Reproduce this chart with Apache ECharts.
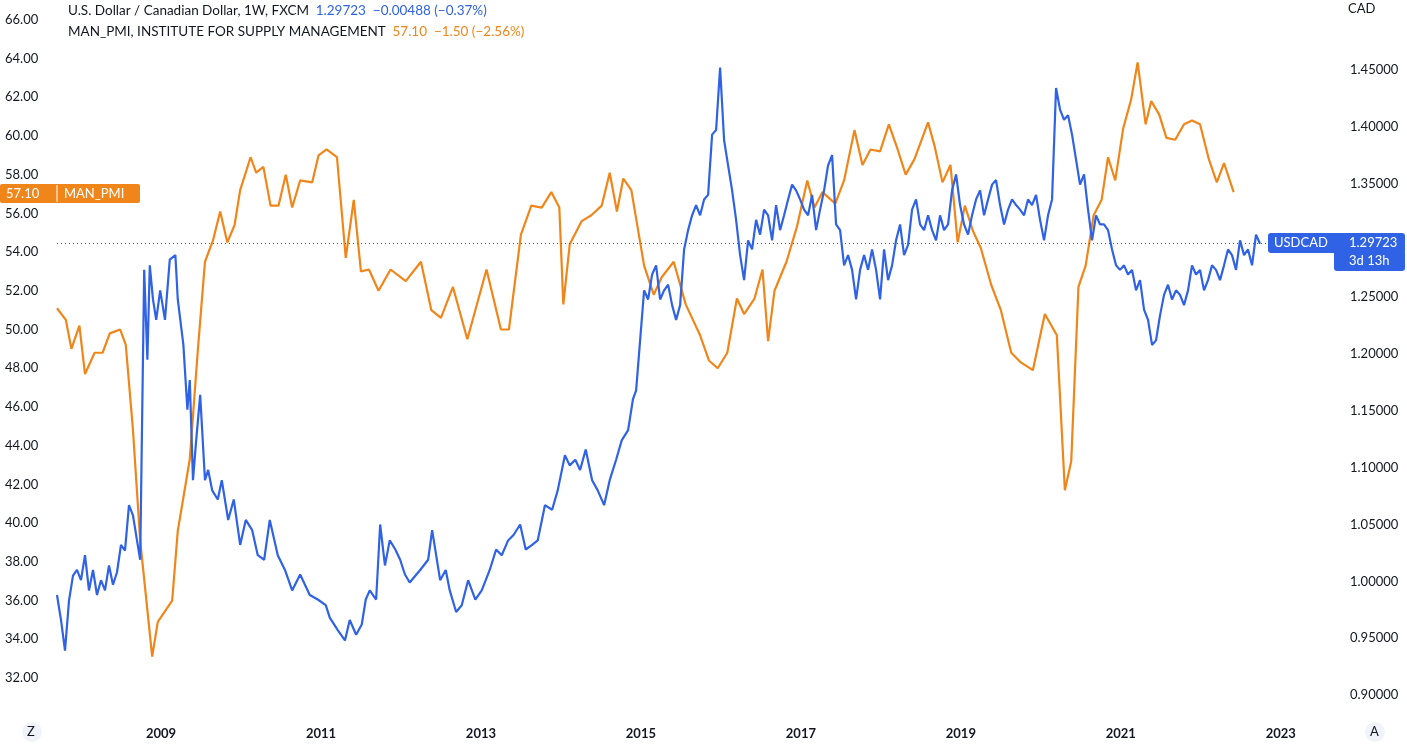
<!DOCTYPE html>
<html>
<head>
<meta charset="utf-8">
<script src="https://cdn.jsdelivr.net/npm/echarts@6/dist/echarts.min.js"></script>
<style>
  html, body { margin: 0; padding: 0; background: #fff; }
  #chart { width: 1407px; height: 744px; }
</style>
</head>
<body>
<div id="chart"></div>
<script>
// ISM manufacturing PMI (left axis), sampled by eye
const pmiYears = [2007.70,2007.81,2007.88,2007.98,2008.05,2008.17,2008.27,2008.36,2008.49,2008.56,2008.65,2008.74,2008.89,2008.96,2009.14,2009.21,2009.36,2009.46,2009.55,2009.65,2009.74,2009.83,2009.92,2009.99,2010.12,2010.19,2010.28,2010.37,2010.47,2010.56,2010.64,2010.74,2010.89,2010.97,2011.07,2011.20,2011.31,2011.41,2011.50,2011.60,2011.72,2011.87,2012.06,2012.25,2012.38,2012.50,2012.65,2012.83,2013.07,2013.25,2013.35,2013.50,2013.63,2013.76,2013.88,2013.98,2014.03,2014.11,2014.26,2014.38,2014.51,2014.61,2014.70,2014.78,2014.88,2015.04,2015.16,2015.26,2015.41,2015.56,2015.74,2015.85,2015.96,2016.08,2016.20,2016.29,2016.42,2016.52,2016.59,2016.67,2016.82,2016.95,2017.08,2017.17,2017.27,2017.43,2017.54,2017.67,2017.77,2017.87,2017.99,2018.10,2018.21,2018.31,2018.42,2018.59,2018.67,2018.77,2018.87,2018.96,2019.05,2019.15,2019.25,2019.38,2019.50,2019.63,2019.75,2019.90,2020.05,2020.20,2020.30,2020.38,2020.47,2020.56,2020.66,2020.76,2020.84,2020.93,2021.03,2021.13,2021.21,2021.31,2021.38,2021.48,2021.57,2021.68,2021.79,2021.89,2021.99,2022.10,2022.20,2022.29,2022.41];
const pmiValues = [51.1,50.5,49.0,50.2,47.7,48.8,48.8,49.8,50.0,49.2,44.8,39.1,33.1,34.9,36.0,39.6,43.3,48.9,53.5,54.6,56.1,54.5,55.4,57.2,58.9,58.1,58.4,56.4,56.4,58.0,56.3,57.7,57.6,59.0,59.3,58.9,53.7,56.7,53.0,53.1,52.0,53.1,52.5,53.5,51.0,50.6,52.2,49.5,53.1,50.0,50.0,54.9,56.4,56.3,57.1,56.3,51.3,54.4,55.6,55.9,56.4,58.1,56.1,57.8,57.2,53.3,51.8,52.7,53.5,51.3,49.7,48.4,48.0,48.8,51.6,50.8,51.6,53.1,49.4,52.0,53.5,55.3,57.7,56.3,57.1,56.5,57.7,60.3,58.5,59.3,59.2,60.6,59.3,58.0,58.8,60.7,59.5,57.6,58.5,54.5,56.4,55.1,54.2,52.3,51.0,48.8,48.3,47.9,50.8,49.7,41.7,43.2,52.2,53.3,55.9,56.7,58.9,57.7,60.4,61.9,63.8,60.6,61.8,61.1,59.9,59.8,60.6,60.8,60.6,58.8,57.6,58.6,57.1];

// USD/CAD weekly close (right axis), sampled by eye
const usdYearsEarly = [2007.70,2007.75,2007.80,2007.85,2007.90,2007.95,2008.00,2008.05,2008.10,2008.15,2008.20,2008.25,2008.30,2008.35,2008.40,2008.45,2008.50,2008.55,2008.60,2008.65,2008.70,2008.74,2008.79,2008.83,2008.86,2008.90,2008.94,2008.99,2009.05,2009.11,2009.18,2009.21,2009.28,2009.33,2009.36,2009.40,2009.44,2009.49,2009.55,2009.59,2009.64,2009.71,2009.76,2009.84,2009.91,2009.99,2010.06,2010.14,2010.21,2010.29,2010.36,2010.46,2010.55,2010.64,2010.74,2010.86,2010.96,2011.06,2011.11,2011.21,2011.30,2011.36,2011.44,2011.51,2011.56,2011.61,2011.69,2011.74,2011.80,2011.86,2011.93,2011.99,2012.05,2012.11,2012.24,2012.34,2012.39,2012.44,2012.49,2012.56,2012.61,2012.69,2012.76,2012.84,2012.93,2013.01,2013.11,2013.19,2013.26,2013.34,2013.41,2013.49,2013.56,2013.64,2013.71,2013.80,2013.89,2013.96,2014.05,2014.11,2014.18,2014.24,2014.31,2014.39,2014.46,2014.54,2014.61,2014.69,2014.76,2014.84,2014.90,2014.94];
const usdValues = [0.988,0.966,0.939,0.983,1.005,1.010,1.001,1.023,0.992,1.010,0.988,1.001,0.992,1.014,0.997,1.008,1.032,1.027,1.067,1.058,1.036,1.019,1.274,1.195,1.278,1.248,1.230,1.256,1.230,1.283,1.287,1.248,1.208,1.151,1.177,1.089,1.124,1.164,1.089,1.098,1.080,1.072,1.089,1.054,1.072,1.032,1.054,1.045,1.023,1.019,1.054,1.023,1.010,0.992,1.006,0.988,0.984,0.979,0.968,0.957,0.948,0.966,0.953,0.962,0.984,0.992,0.984,1.050,1.014,1.036,1.028,1.019,1.006,0.999,1.010,1.019,1.045,1.023,1.001,1.010,0.992,0.973,0.979,1.001,0.984,0.992,1.010,1.028,1.023,1.036,1.041,1.050,1.028,1.032,1.036,1.067,1.063,1.080,1.111,1.102,1.107,1.098,1.116,1.089,1.080,1.067,1.089,1.107,1.124,1.133,1.160,1.168,
  1.212,1.256,1.248,1.270,1.278,1.248,1.256,1.261,1.243,1.230,1.243,1.292,1.309,1.322,1.331,1.322,1.336,1.340,1.393,1.397,1.452,1.388,1.366,1.344,1.318,1.287,1.265,1.300,1.292,1.318,1.305,1.327,1.322,1.300,1.331,1.309,1.322,1.336,1.349,1.344,1.336,1.327,1.322,1.340,1.309,1.327,1.344,1.366,1.375,1.314,1.309,1.278,1.287,1.274,1.248,1.274,1.287,1.274,1.292,1.274,1.248,1.292,1.265,1.278,1.300,1.314,1.287,1.296,1.327,1.336,1.314,1.309,1.322,1.309,1.300,1.322,1.309,1.314,1.344,1.358,1.331,1.314,1.305,1.322,1.336,1.344,1.322,1.336,1.349,1.353,1.331,1.314,1.327,1.336,1.331,1.327,1.322,1.336,1.331,1.340,1.318,1.300,1.322,1.336,1.434,1.415,1.406,1.410,1.393,1.371,1.349,1.358,1.327,1.300,1.322,1.314,1.314,1.309,1.292,1.278,1.274,1.278,1.270,1.274,1.256,1.265,1.239,1.230,1.208,1.212,1.234,1.252,1.261,1.248,1.256,1.252,1.243,1.256,1.278,1.270,1.274,1.256,1.265,1.278,1.274,1.265,1.278,1.292,1.287,1.274,1.300,1.287,1.292,1.278,1.305,1.297];

const xTicks = [2009, 2011, 2013, 2015, 2017, 2019, 2021, 2023];
const pmiTicks = [32,34,36,38,40,42,44,46,48,50,52,54,56,58,60,62,64,66];
const cadTicks = [0.90,0.95,1.00,1.05,1.10,1.15,1.20,1.25,1.30,1.35,1.40,1.45];
const usdLast = 1.29723;

// weekly points from 2015 on are evenly spaced (0.05 yr)
let usdYears = usdYearsEarly.slice();
for (let i = usdYears.length; i < usdValues.length; i++) {
  usdYears.push(+(2014.99 + (i - usdYearsEarly.length) * 0.05).toFixed(3));
}

const BLUE = '#2f62e4';
const ORANGE = '#f0861a';
const TXT = '#131722';
const FONT = 'Lato, "Noto Sans", sans-serif';

let chart = echarts.init(document.getElementById('chart'));

// overlay tags must sit above axis labels
const tag = (el) => Object.assign({ z: 100 }, el);

chart.setOption({
  animation: false,
  grid: { left: 57, right: 67, top: 13, bottom: 49 },
  xAxis: {
    type: 'value',
    min: 2007.70,
    max: 2023.74,
    splitLine: { show: false },
    axisLine: { show: false },
    axisTick: { show: false },
    axisLabel: {
      customValues: xTicks,
      margin: 32,
      color: TXT,
      fontFamily: FONT,
      fontSize: 13,
      fontWeight: 'bold',
      formatter: v => String(Math.round(v))
    }
  },
  yAxis: [
    {
      type: 'value',
      position: 'left',
      min: 31.12,
      max: 66.35,
      splitLine: { show: false },
      axisLine: { show: false },
      axisTick: { show: false },
      axisLabel: {
        customValues: pmiTicks,
        margin: 52,
        align: 'left',
        color: TXT,
        fontFamily: FONT,
        fontSize: 13,
        formatter: v => v.toFixed(2)
      }
    },
    {
      type: 'value',
      position: 'right',
      min: 0.90,
      max: 1.50,
      splitLine: { show: false },
      axisLine: { show: false },
      axisTick: { show: false },
      axisLabel: {
        customValues: cadTicks,
        margin: 10,
        color: TXT,
        fontFamily: FONT,
        fontSize: 13,
        formatter: v => v.toFixed(5)
      }
    }
  ],
  series: [
    {
      name: 'MAN_PMI',
      type: 'line',
      yAxisIndex: 0,
      showSymbol: false,
      lineStyle: { color: ORANGE, width: 2.2 },
      data: pmiYears.map((y, i) => [y, pmiValues[i]])
    },
    {
      name: 'USDCAD',
      type: 'line',
      yAxisIndex: 1,
      showSymbol: false,
      lineStyle: { color: BLUE, width: 2.2 },
      data: usdYears.map((y, i) => [y, usdValues[i]]),
      markLine: {
        symbol: 'none',
        silent: true,
        label: { show: false },
        lineStyle: { color: '#555', type: [1, 3], width: 1 },
        data: [[{ coord: [2007.70, usdLast] }, { coord: [2023.0, usdLast] }]]
      }
    }
  ],
  graphic: [
    {
      type: 'text', left: 68, top: 4,
      style: {
        text: '{a|U.S. Dollar / Canadian Dollar, 1W, FXCM}  {b|1.29723  −0.00488 (−0.37%)}',
        rich: {
          a: { fill: TXT, fontSize: 13.5, fontFamily: FONT },
          b: { fill: BLUE, fontSize: 13.5, fontFamily: FONT }
        }
      }
    },
    {
      type: 'text', left: 68, top: 25,
      style: {
        text: '{a|MAN_PMI, INSTITUTE FOR SUPPLY MANAGEMENT}  {b|57.10  −1.50 (−2.56%)}',
        rich: {
          a: { fill: TXT, fontSize: 13.5, fontFamily: FONT },
          b: { fill: ORANGE, fontSize: 13.5, fontFamily: FONT }
        }
      }
    },
    { type: 'text', left: 1348, top: 2, style: { text: 'CAD', fill: TXT, fontSize: 13, fontFamily: FONT } },
    // PMI last-value tag
    tag({ type: 'rect', shape: { x: 0, y: 184, width: 140, height: 19, r: 2 }, style: { fill: ORANGE } }),
    tag({ type: 'line', shape: { x1: 57, y1: 185, x2: 57, y2: 202 }, style: { stroke: '#fff', lineWidth: 1 } }),
    tag({ type: 'text', left: 6, top: 187, style: { text: '57.10', fill: '#fff', fontSize: 13, fontFamily: FONT } }),
    tag({ type: 'text', left: 64, top: 187, style: { text: 'MAN_PMI', fill: '#fff', fontSize: 13, fontFamily: FONT } }),
    // USDCAD last-value tag
    tag({ type: 'rect', shape: { x: 1268, y: 233, width: 137, height: 20, r: 3 }, style: { fill: BLUE } }),
    tag({ type: 'rect', shape: { x: 1334, y: 250, width: 71, height: 21, r: 3 }, style: { fill: BLUE } }),
    tag({ type: 'text', left: 1274, top: 236, style: { text: 'USDCAD', fill: '#fff', fontSize: 13, fontFamily: FONT } }),
    tag({ type: 'text', left: 1349, top: 236, style: { text: '1.29723', fill: '#fff', fontSize: 13, fontFamily: FONT } }),
    tag({ type: 'text', left: 1349, top: 254, style: { text: '3d 13h', fill: '#fff', fontSize: 13, fontFamily: FONT } }),
    // corner buttons
    { type: 'rect', shape: { x: 22, y: 722, width: 20, height: 20, r: 10 }, style: { fill: '#f0f3fa' } },
    { type: 'text', left: 27, top: 725, style: { text: 'Z', fill: TXT, fontSize: 13, fontFamily: FONT } },
    { type: 'rect', shape: { x: 1365, y: 722, width: 20, height: 20, r: 10 }, style: { fill: '#f0f3fa' } },
    { type: 'text', left: 1370, top: 725, style: { text: 'A', fill: TXT, fontSize: 13, fontFamily: FONT } }
  ]
});
</script>
</body>
</html>
